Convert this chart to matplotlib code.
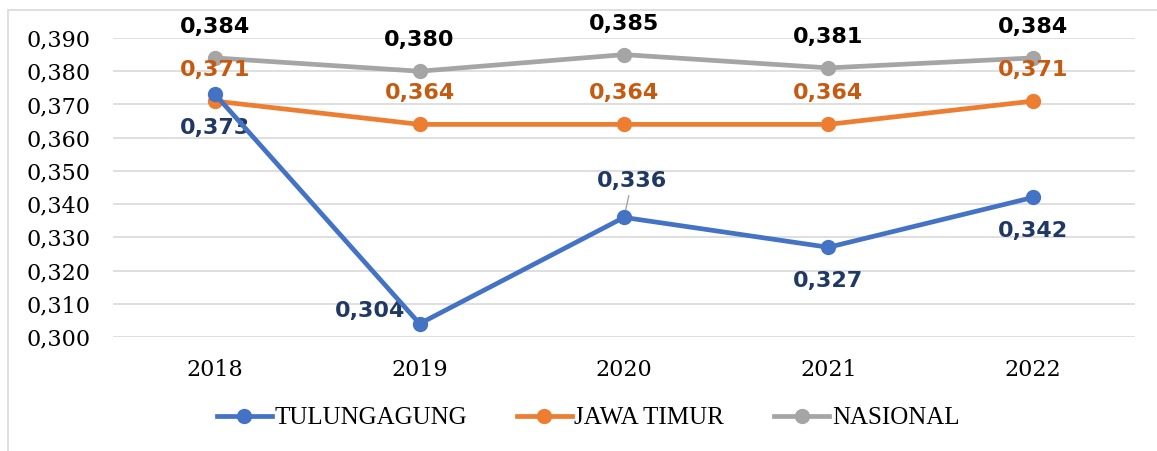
import numpy as np
import matplotlib.pyplot as plt
from matplotlib.patches import Rectangle

# data
years = ['2018', '2019', '2020', '2021', '2022']
tulungagung = [0.373, 0.304, 0.336, 0.327, 0.342]
jawa_timur = [0.371, 0.364, 0.364, 0.364, 0.371]
nasional = [0.384, 0.380, 0.385, 0.381, 0.384]
yticks = [0.300, 0.310, 0.320, 0.330, 0.340, 0.350, 0.360, 0.370, 0.380, 0.390]


def fmt(v):
    return f"{v:.3f}".replace('.', ',')


W, H = 1157, 451
fig = plt.figure(figsize=(W / 100, H / 100), dpi=100)
ax = fig.add_axes([113 / W, 1 - 337 / H, (1135 - 113) / W, (337 - 38) / H])

# outer chart border
fig.patches.append(Rectangle((8 / W, -0.1), 1.2, 1 - 10 / H + 0.1, transform=fig.transFigure,
                             fill=False, edgecolor='#D9D9D9', linewidth=1.2))

x = np.arange(len(years))
blue, orange, gray = '#4472C4', '#ED7D31', '#A5A5A5'

ax.plot(x, nasional, color=gray, lw=3.4, marker='o', ms=10, label='NASIONAL', zorder=3)
ax.plot(x, jawa_timur, color=orange, lw=3.4, marker='o', ms=10, label='JAWA TIMUR', zorder=4)
ax.plot(x, tulungagung, color=blue, lw=3.4, marker='o', ms=10, label='TULUNGAGUNG', zorder=5)

lab = dict(fontsize=16, fontweight='heavy', family='DejaVu Sans', textcoords='offset pixels')

for i, v in enumerate(nasional):
    ax.annotate(fmt(v), (i, v), xytext=(0, 31), ha='center', va='center', color='black', **lab)
for i, v in enumerate(jawa_timur):
    ax.annotate(fmt(v), (i, v), xytext=(0, 31), ha='center', va='center', color='#C55A11', **lab)

tul_off = [(0, -34), (-14, 13), (8, 36), (0, -34), (0, -34)]
tul_ha = ['center', 'right', 'center', 'center', 'center']
for i, v in enumerate(tulungagung):
    if i == 2:
        ax.annotate(fmt(v), (i, v), xytext=tul_off[i], ha=tul_ha[i], va='center', color='#203864',
                    arrowprops=dict(arrowstyle='-', color='#A5A5A5', lw=1, shrinkA=1, shrinkB=5), **lab)
    else:
        ax.annotate(fmt(v), (i, v), xytext=tul_off[i], ha=tul_ha[i], va='center', color='#203864', **lab)

ax.set_xlim(-0.5, 4.5)
ax.set_ylim(0.300, 0.390)
ax.set_yticks(yticks)
ax.set_yticklabels([fmt(v) for v in yticks], family='DejaVu Serif', fontsize=16)
ax.set_xticks(x)
ax.set_xticklabels(years, family='DejaVu Serif', fontsize=16)
ax.tick_params(axis='y', length=0, pad=16)
ax.tick_params(axis='x', length=0, pad=16)
ax.grid(axis='y', color='#D9D9D9', lw=1.2)
ax.set_axisbelow(True)
for s in ax.spines.values():
    s.set_visible(False)

handles, labels = ax.get_legend_handles_labels()
order = [2, 1, 0]
fig.legend([handles[k] for k in order], [labels[k] for k in order], loc='center',
           bbox_to_anchor=(588 / W, 1 - 418 / H), ncol=3, frameon=False,
           prop={'family': 'Liberation Serif', 'size': 18}, handlelength=2.2,
           handletextpad=0.1, columnspacing=2.0)

fig.savefig('out.png', dpi=100, facecolor='white')
